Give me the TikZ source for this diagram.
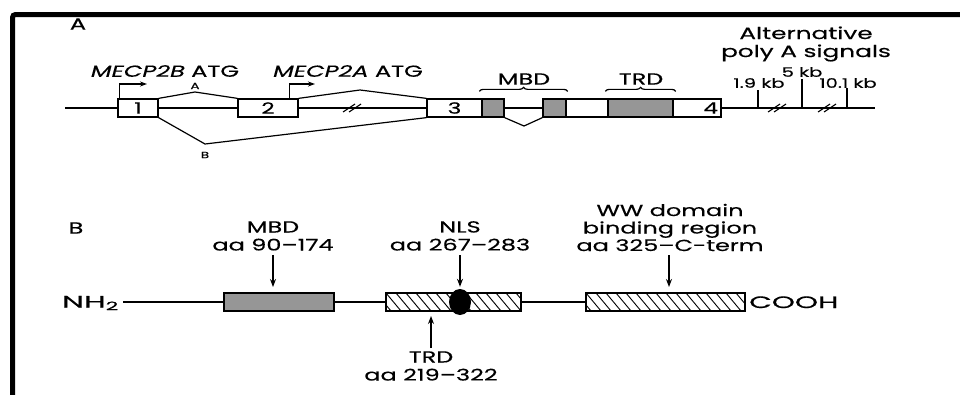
\documentclass[tikz,border=0pt]{standalone}
\usepackage{fontspec}
\setmainfont{Poppins}
\newfontfamily\figfont{Poppins}[FakeStretch=1.5,FakeBold=0.4]
\newfontfamily\widefont{Poppins}[FakeStretch=1.9,FakeBold=0.4]
\newfontfamily\coohfont{Poppins}[FakeStretch=1.78,FakeBold=0.4]
\usetikzlibrary{arrows.meta,decorations.pathreplacing,shapes.geometric}
\definecolor{dgrey}{RGB}{150,150,150}
\begin{document}
\begin{tikzpicture}[x=1pt,y=-1pt,
  exon/.style={draw, line width=1.3pt, minimum height=18pt, inner sep=0pt, font=\figfont\fontsize{15.5}{15.5}\selectfont},
  gbox/.style={exon, fill=dgrey},
  hbox/.style={exon, path picture={\foreach \i in {-3,...,17}{\draw[line width=0.9pt] ([xshift=\i*10pt]path picture bounding box.north west) -- ++(15pt,-18pt);}}},
  ln/.style={line width=1.2pt},
  lbl/.style={font=\figfont\fontsize{16}{18}\selectfont, align=center, inner sep=0pt},
  big/.style={font=\widefont\fontsize{16.5}{18}\selectfont, inner sep=0pt},
  sml/.style={font=\figfont\fontsize{13}{14}\selectfont, inner sep=0pt},
  tiny/.style={font=\figfont\fontsize{9}{10}\selectfont, inner sep=0pt},
  arr/.style={line width=1.2pt, -{Stealth[length=8pt,width=6pt]}},
  brk/.pic={\draw[line width=1.1pt] (-9,4)--(3,-4); \draw[line width=1.1pt] (-3,4)--(9,-4);}
]
\useasboundingbox (0,0) rectangle (960,394);
% frame
\draw[line width=5pt, rounded corners=3pt] (12.5,400) -- (12.5,14.5) -- (965,14.5);

% ---------- Part A ----------
\node[lbl] (labA) at (78,24) {A};
\coordinate (startA) at (65,108);
\node[exon, minimum width=40] (e1) at (138,108) {1};
\node[exon, minimum width=60] (e2) at (268,108) {2};
\node[exon, minimum width=55] (e3) at (454.5,108) {3};
\node[gbox, minimum width=22] (m1) at (493,108) {};
\node[gbox, minimum width=23] (m2) at (554.5,108) {};
\node[exon, minimum width=42] (w1) at (587,108) {};
\node[gbox, minimum width=65] (t1) at (640.5,108) {};
\node[exon, minimum width=48, text width=42, align=right] (e4) at (697,108) {4};
\coordinate (endA) at (875,108);

\draw[ln] (startA) -- (e1.west);
\draw[ln] (e1.east) -- (e2.west);
\draw[ln] (e2.east) -- (e3.west);
\draw[ln] (m1.east) -- (m2.west);
\draw[ln] (e4.east) -- (endA);
\pic at (352,108) {brk};

% splicing
\coordinate (pA) at (195,92);
\draw[ln] (e1.north east) -- (pA) -- (e2.north west);
\node[tiny] (sA) at (195,86) {A};
\coordinate (p2) at (360,90);
\draw[ln] (e2.north east) -- (p2) -- (e3.north west);
\coordinate (pB) at (205,144);
\draw[ln] (e1.south east) -- (pB) -- (e3.south west);
\node[tiny] (sB) at (205,155) {B};
\coordinate (pM) at (524,126);
\draw[ln] (m1.south east) -- (pM) -- (m2.south west);

% transcription starts
\coordinate (tB) at (147,84);
\draw[ln, -{Stealth[length=7pt,width=5pt]}] ([xshift=2pt]e1.north west) |- (tB);
\coordinate (tA) at (315,84);
\draw[ln, -{Stealth[length=7pt,width=5pt]}] ([xshift=-9pt]e2.north east) |- (tA);
\node[lbl] (atgB) at (165,71) {\textit{MECP2B} ATG};
\node[lbl] (atgA) at (348,71) {\textit{MECP2A} ATG};

% braces
\draw[ln, decorate, decoration={brace, amplitude=4pt}] ([xshift=-2pt,yshift=7pt]m1.north west) -- ([xshift=1pt,yshift=7pt]m2.north east);
\node[lbl] (mbdA) at (524,79) {MBD};
\draw[ln, decorate, decoration={brace, amplitude=4pt}] ([xshift=-2pt,yshift=7pt]t1.north west) -- ([xshift=2pt,yshift=7pt]t1.north east);
\node[lbl] (trdA) at (641,79) {TRD};

% poly A
\coordinate (p19) at (758,108);
\coordinate (p5) at (802,108);
\coordinate (p10) at (847,108);
\draw[ln] (p19) -- ++(0,-18);
\draw[ln] (p5) -- ++(0,-29);
\draw[ln] (p10) -- ++(0,-20);
\pic at (777,108) {brk};
\pic at (827,108) {brk};
\node[sml] (l19) at (759,83) {1.9 kb};
\node[sml] (l5) at (802,72) {5 kb};
\node[sml] (l10) at (848,83) {10.1 kb};
\node[lbl, font=\figfont\fontsize{16.5}{18}\selectfont] (alt) at (806,44) {Alternative\\poly A signals};

% ---------- Part B ----------
\node[lbl] (labB) at (76,228) {B};
\node[big, anchor=base east] (nh2) at (119,307.5) {NH\textsubscript{2}};
\node[gbox, minimum width=110] (mbdB) at (279,302) {};
\node[hbox, minimum width=135] (trdB) at (453.5,302) {};
\node[hbox, minimum width=159] (wwB) at (665.5,302) {};
\node[ellipse, fill=black, minimum width=22pt, minimum height=26pt, inner sep=0pt] (nls) at (460,302) {};
\node[big, font=\coohfont\fontsize{16.5}{18}\selectfont, anchor=base west] (cooh) at (749,308) {COOH};

\draw[ln] ([xshift=4pt]nh2.east |- mbdB.west) -- (mbdB.west);
\draw[ln] (mbdB.east) -- (trdB.west);
\draw[ln] (trdB.east) -- (wwB.west);

\node[lbl] (mbdL) at (273,236) {MBD\\aa 90–174};
\coordinate (mbdT) at (273,293);
\draw[arr, shorten >=6pt] ([yshift=-4pt]mbdL.south) -- (mbdT);
\node[lbl] (nlsL) at (460,236) {NLS\\aa 267–283};
\draw[arr, shorten >=2pt] ([yshift=-4pt]nlsL.south) -- (nls.north);
\node[lbl] (trdL) at (431,366) {TRD\\aa 219–322};
\coordinate (trdT) at (431,311);
\draw[arr, shorten >=5pt] ([yshift=3pt]trdL.north) -- (trdT);
\node[lbl, font=\figfont\fontsize{16}{17.5}\selectfont] (wwL) at (670,227.5) {WW domain\\binding region\\aa 325–C-term};
\coordinate (wwT) at (669,293);
\draw[arr, shorten >=6pt] ([yshift=-4pt]wwL.south -| wwT) -- (wwT);
\end{tikzpicture}
\end{document}
